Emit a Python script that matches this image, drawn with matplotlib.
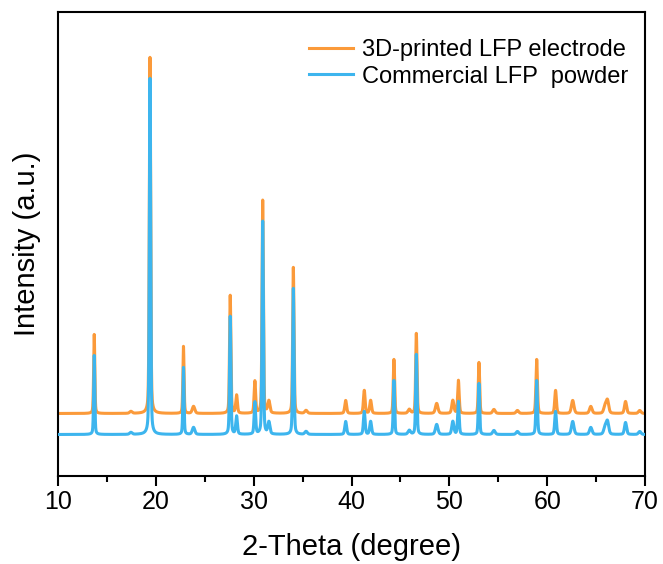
import numpy as np
import matplotlib.pyplot as plt

# Peak list: 2-theta (deg), height (a.u.), FWHM (deg)
peak_pos = [13.70, 17.45, 19.40, 22.82, 23.85, 27.60, 28.25, 30.12, 30.92, 31.55,
            34.05, 35.35, 39.40, 41.30, 41.95, 44.33, 45.90, 46.62, 48.70, 50.35,
            50.92, 53.02, 54.55, 56.95, 58.92, 60.85, 62.60, 64.45, 65.90, 66.15,
            68.00, 69.45]
electrode_heights = [79, 2, 356, 67, 7, 118, 18, 32, 213, 12,
                     146, 3, 13, 23, 13, 54, 4, 80, 10, 13,
                     33, 51, 4, 3, 54, 23, 13, 7, 7, 13,
                     12, 3]
powder_heights = [79, 2, 356, 67, 7, 118, 18, 32, 213, 12,
                  146, 3, 13, 23, 13, 54, 4, 80, 10, 13,
                  33, 51, 4, 3, 54, 23, 13, 7, 7, 13,
                  12, 3]
peak_fwhm = [0.14, 0.3, 0.16, 0.14, 0.3, 0.16, 0.2, 0.18, 0.16, 0.25,
             0.16, 0.3, 0.22, 0.2, 0.22, 0.16, 0.3, 0.16, 0.3, 0.25,
             0.18, 0.16, 0.3, 0.3, 0.18, 0.2, 0.3, 0.3, 0.3, 0.3,
             0.25, 0.3]

# Background level of each pattern (stacked, a.u.)
electrode_base = 62.5
powder_base = 41.5

labels = ["3D-printed LFP electrode", "Commercial LFP  powder"]
colors = ["#FB9A3A", "#3DB5EE"]


def pattern(two_theta, heights, base, eta=0.35):
    # pseudo-Voigt peaks on a flat background
    y = np.full_like(two_theta, base)
    for p, h, w in zip(peak_pos, heights, peak_fwhm):
        d = two_theta - p
        lor = (w / 2)**2 / (d**2 + (w / 2)**2)
        gau = np.exp(-4 * np.log(2) * d**2 / w**2)
        y += h * (eta * lor + (1 - eta) * gau)
    return y


tt = np.arange(10, 70.001, 0.01)

plt.rcParams['font.family'] = ['Liberation Sans', 'DejaVu Sans']

fig = plt.figure(figsize=(6.63, 5.64), dpi=100)
ax = fig.add_axes([0.0875, 0.156, 0.8855, 0.823])

ax.plot(tt, pattern(tt, electrode_heights, electrode_base), color=colors[0],
        lw=2.2, label=labels[0], zorder=2)
ax.plot(tt, pattern(tt, powder_heights, powder_base), color=colors[1],
        lw=2.2, label=labels[1], zorder=3)

ax.set_xlim(10, 70)
ax.set_ylim(0, 464)
ax.set_xticks(np.arange(10, 71, 10))
ax.set_xticks(np.arange(15, 70, 10), minor=True)
ax.set_yticks([])
ax.tick_params(axis='x', which='major', direction='out', length=7, width=1.5,
               labelsize=18, pad=3)
ax.tick_params(axis='x', which='minor', direction='out', length=4, width=1.5)
for s in ax.spines.values():
    s.set_linewidth(1.5)

ax.set_xlabel("2-Theta (degree)", fontsize=21, labelpad=14)
ax.set_ylabel("Intensity (a.u.)", fontsize=21, labelpad=12)

ax.legend(loc='upper right', bbox_to_anchor=(1.007, 0.987), frameon=False,
          fontsize=17, handlelength=1.9, handletextpad=0.35, labelspacing=0.19)

fig.savefig("out.png", dpi=100)
